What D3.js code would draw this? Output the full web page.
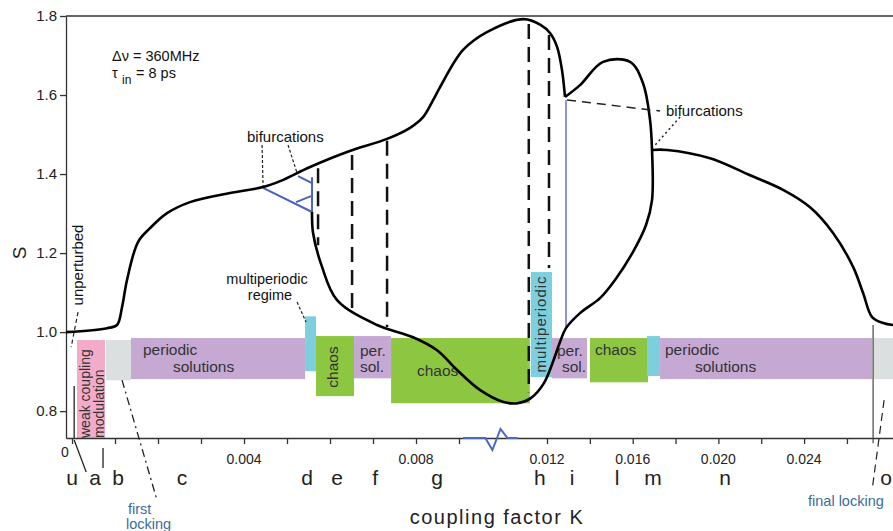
<!DOCTYPE html>
<html>
<head>
<meta charset="utf-8">
<script src="https://cdn.jsdelivr.net/npm/d3@7"></script>
<style>
body { margin: 0; background: #fff; }
svg { display: block; font-family: "Liberation Sans", Arial, sans-serif; }
</style>
</head>
<body>
<svg width="893" height="531"></svg>
<script>
// ---- data (K = coupling factor, S) ----
var xTicks = [0, 0.001, 0.002, 0.003, 0.004, 0.005, 0.006, 0.007, 0.008, 0.009,
              0.012, 0.014, 0.016, 0.018, 0.020, 0.022, 0.024, 0.026];
var xLabelValues = [0.004, 0.008, 0.012, 0.016, 0.020, 0.024];
var xLabelText = ["0.004", "0.008", "0.012", "0.016", "0.020", "0.024"];
var yTicks = [0.8, 1.0, 1.2, 1.4, 1.6, 1.8];

// regimes along K
var bandType   = ["weak", "lock", "periodic", "multi", "chaos", "periodic", "chaos", "multi", "periodic", "chaos", "multi", "periodic", "lock"];
var bandK0     = [0.000116, 0.000791, 0.001372, 0.00542, 0.005675, 0.006559, 0.00742, 0.011448, 0.012233, 0.014008, 0.016669, 0.017276, 0.027221];
var bandK1     = [0.000768, 0.001372, 0.00542, 0.005675, 0.006559, 0.00742, 0.011414, 0.012233, 0.013868, 0.016716, 0.017276, 0.027174, 0.02815];
var bandTop    = [0.980, 0.980, 0.985, 1.040, 0.990, 0.990, 0.985, 1.152, 0.985, 0.985, 0.990, 0.985, 0.985];
var bandBottom = [0.732, 0.878, 0.881, 0.901, 0.838, 0.883, 0.820, 0.886, 0.883, 0.873, 0.889, 0.881, 0.881];

var regionLetters = ["u", "a", "b", "c", "d", "e", "f", "g", "h", "i", "l", "m", "n", "o"];
var regionK = [0, 0.000535, 0.00107, 0.002559, 0.005466, 0.006164, 0.007048, 0.00849, 0.011758, 0.013167, 0.015268, 0.016949, 0.020311, 0.027828];

// S(K) branches
var upperK = [-0.00014, 0.000814, 0.001047, 0.001163, 0.001279, 0.001535, 0.001814, 0.00221, 0.002745, 0.003675, 0.004443, 0.004838, 0.005536, 0.006397, 0.007327, 0.007862, 0.008164, 0.008397, 0.00856, 0.009138, 0.009966, 0.011207, 0.011793, 0.01214, 0.01247, 0.0127, 0.01284];
var upperS = [1.0, 1.010, 1.018, 1.063, 1.132, 1.228, 1.263, 1.301, 1.329, 1.352, 1.367, 1.382, 1.418, 1.456, 1.489, 1.517, 1.544, 1.587, 1.620, 1.714, 1.760, 1.792, 1.777, 1.757, 1.722, 1.663, 1.595];
var loopK = [0.01284, 0.013541, 0.014615, 0.015875, 0.016482, 0.016809, 0.016902, 0.016902, 0.016622, 0.016015, 0.015175, 0.014474, 0.013541, 0.012887, 0.012607, 0.01228, 0.011896, 0.011448, 0.011, 0.010517, 0.009724, 0.008955, 0.00849, 0.007932, 0.007094, 0.006164, 0.005815, 0.005606, 0.005582];
var loopS = [1.595, 1.625, 1.684, 1.684, 1.630, 1.537, 1.461, 1.334, 1.271, 1.203, 1.132, 1.086, 1.048, 1.010, 0.975, 0.925, 0.871, 0.833, 0.820, 0.823, 0.853, 0.904, 0.954, 0.987, 1.018, 1.081, 1.165, 1.251, 1.304];
var rightK = [0.016902, 0.017603, 0.01961, 0.021478, 0.023019, 0.024279, 0.025353, 0.026287, 0.026754, 0.027174, 0.027688, 0.02815];
var rightS = [1.461, 1.461, 1.440, 1.397, 1.360, 1.316, 1.251, 1.165, 1.099, 1.038, 1.023, 1.018];

// dashed vertical lines
var dashK      = [0.005722, 0.006513, 0.007327, 0.011379, 0.012093];
var dashTop    = [1.415, 1.448, 1.484, 1.780, 1.752];
var dashBottom = [1.220, 1.056, 1.013, 0.848, 1.162];

// blue bifurcation fork
var forkK = [[0.004443, 0.005582], [0.005257, 0.005582], [0.00521, 0.005559], [0.005582, 0.005582]];
var forkS = [[1.365, 1.304], [1.395, 1.377], [1.329, 1.344], [1.392, 1.304]];
var blueLineK = 0.012887;
var blueLineS = [1.587, 1.013];

// axis break symbol
var breakK = [0.009138, 0.009897, 0.010138, 0.010414, 0.010655, 0.011];
var breakDy = [0, 0, 12, -9, 0, 0];

var regimeColor = { weak: "#f2abc9", lock: "#dcdfe0", periodic: "#c5a9d3", multi: "#7dcfdd", chaos: "#8dc641" };

// ---- drawing ----
var svg = d3.select("svg");

var x = d3.scaleLinear()
    .domain([-0.00014, 0.009, 0.012, 0.02815])
    .range([66, 459, 547, 893]);
var y = d3.scaleLinear()
    .domain([0.732, 1.8])
    .range([438, 16]);

// bands
svg.append("g").selectAll("rect")
    .data(bandType)
  .enter().append("rect")
    .attr("x", function(d, i) { return x(bandK0[i]); })
    .attr("width", function(d, i) { return x(bandK1[i]) - x(bandK0[i]); })
    .attr("y", function(d, i) { return y(bandTop[i]); })
    .attr("height", function(d, i) { return y(bandBottom[i]) - y(bandTop[i]); })
    .attr("fill", function(d) { return regimeColor[d]; });

// band labels
var bandText = [
  { t: "periodic", x: 143, y: 355 }, { t: "solutions", x: 173, y: 372 },
  { t: "per.", x: 360, y: 356 }, { t: "sol.", x: 360, y: 372 },
  { t: "chaos", x: 417, y: 376 },
  { t: "per.", x: 557, y: 356 }, { t: "sol.", x: 562, y: 372 },
  { t: "chaos", x: 595, y: 355 },
  { t: "periodic", x: 665, y: 355 }, { t: "solutions", x: 695, y: 372 }
];
svg.append("g").selectAll("text")
    .data(bandText)
  .enter().append("text")
    .attr("x", function(d) { return d.x; })
    .attr("y", function(d) { return d.y; })
    .attr("font-size", 15.5)
    .attr("fill", "#333")
    .text(function(d) { return d.t; });

var vText = [
  { t: "weak coupling", x: 90, y: 438, a: "start", s: 14, ls: 0 },
  { t: "modulation", x: 104, y: 438, a: "start", s: 14, ls: 0 },
  { t: "chaos", x: 338, y: 367, a: "middle", s: 15.5, ls: 0 },
  { t: "multiperiodic", x: 546, y: 324, a: "middle", s: 15, ls: 1 }
];
svg.append("g").selectAll("text")
    .data(vText)
  .enter().append("text")
    .attr("transform", function(d) { return "translate(" + d.x + "," + d.y + ") rotate(-90)"; })
    .attr("text-anchor", function(d) { return d.a; })
    .attr("font-size", function(d) { return d.s; })
    .attr("letter-spacing", function(d) { return d.ls; })
    .attr("fill", "#333")
    .text(function(d) { return d.t; });

// axes
var yAxis = svg.append("g")
    .attr("transform", "translate(66,0)")
    .call(d3.axisLeft(y).tickValues(yTicks).tickSize(6).tickSizeOuter(0).tickPadding(3)
      .tickFormat(d3.format(".1f")));
var xAxis = svg.append("g")
    .attr("transform", "translate(0,438)")
    .call(d3.axisBottom(x).tickValues(xTicks).tickSize(6).tickSizeOuter(0).tickFormat(""));
[yAxis, xAxis].forEach(function(a) {
  a.selectAll("path, line").attr("stroke", "#333").attr("stroke-width", 1.3);
  a.selectAll("text").attr("font-size", 15).attr("fill", "#222")
    .attr("font-family", "'Liberation Sans', Arial, sans-serif");
});
// top frame
svg.append("line")
    .attr("x1", x.range()[0]).attr("x2", x.range()[3])
    .attr("y1", y(1.8)).attr("y2", y(1.8))
    .attr("stroke", "#333").attr("stroke-width", 1.3);

svg.append("g").selectAll("text")
    .data(xLabelValues)
  .enter().append("text")
    .attr("x", function(d) { return x(d); })
    .attr("y", 464)
    .attr("text-anchor", "middle")
    .attr("font-size", 14)
    .attr("fill", "#222")
    .text(function(d, i) { return xLabelText[i]; });
svg.append("text").attr("x", x(0) - 7).attr("y", 457)
    .attr("text-anchor", "middle").attr("font-size", 14).attr("fill", "#222").text("0");

// axis break
svg.append("path")
    .datum(breakK)
    .attr("d", d3.line().x(function(d) { return x(d); }).y(function(d, i) { return 438 + breakDy[i]; }))
    .attr("fill", "none").attr("stroke", "#4a68c4").attr("stroke-width", 2);

// region letters
svg.append("g").selectAll("text")
    .data(regionLetters)
  .enter().append("text")
    .attr("x", function(d, i) { return x(regionK[i]); })
    .attr("y", 485)
    .attr("text-anchor", "middle")
    .attr("font-size", 21)
    .attr("fill", "#222")
    .text(function(d) { return d; });

svg.append("text").attr("x", 497).attr("y", 524).attr("text-anchor", "middle")
    .attr("font-size", 20).attr("letter-spacing", 1.5).attr("fill", "#222").text("coupling factor K");
svg.append("text").attr("transform", "translate(26,253) rotate(-90)").attr("text-anchor", "middle")
    .attr("font-size", 19).attr("fill", "#222").text("S");

// dashed verticals
svg.append("g").selectAll("line")
    .data(dashK)
  .enter().append("line")
    .attr("x1", function(d) { return x(d); }).attr("x2", function(d) { return x(d); })
    .attr("y1", function(d, i) { return y(dashTop[i]); })
    .attr("y2", function(d, i) { return y(dashBottom[i]); })
    .attr("stroke", "#111").attr("stroke-width", 2.5).attr("stroke-dasharray", "15,8");

// blue lines
svg.append("g").selectAll("line")
    .data(forkK)
  .enter().append("line")
    .attr("x1", function(d) { return x(d[0]); }).attr("x2", function(d) { return x(d[1]); })
    .attr("y1", function(d, i) { return y(forkS[i][0]); })
    .attr("y2", function(d, i) { return y(forkS[i][1]); })
    .attr("stroke", "#4a62c0").attr("stroke-width", 2);
svg.append("line")
    .attr("x1", x(blueLineK)).attr("x2", x(blueLineK))
    .attr("y1", y(blueLineS[0])).attr("y2", y(blueLineS[1]))
    .attr("stroke", "#8f93da").attr("stroke-width", 2);

// curves
var line = d3.line()
    .x(function(d) { return x(d[0]); })
    .y(function(d) { return y(d[1]); })
    .curve(d3.curveCatmullRom.alpha(0.5));
[[upperK, upperS], [loopK, loopS], [rightK, rightS]].forEach(function(c) {
  svg.append("path")
      .datum(c[0].map(function(k, i) { return [k, c[1][i]]; }))
      .attr("d", line)
      .attr("fill", "none").attr("stroke", "#000").attr("stroke-width", 2.6)
      .attr("stroke-linejoin", "round");
});

// annotation leaders [K0, S0, K1, S1, dash, colour, width]
var leaders = [
  [0.00014, 1.0506, -0.00002, 0.962, "4,3", "#222", 1.2],
  [0.00005, 0.8633, 0.00005, 0.7317, null, "#222", 1.3],
  [0.00005, 0.727, 0.00033, 0.646, null, "#222", 1.3],
  [0.000721, 0.707, 0.000721, 0.656, null, "#222", 1.3],
  [0.001163, 0.8785, 0.001977, 0.5747, "8,4,2,4", "#222", 1.3],
  [0.027735, 0.8279, 0.027174, 0.60, "8,5", "#222", 1.2],
  [0.027221, 1.0177, 0.027221, 0.719, null, "#444", 1.2],
  [0.00442, 1.4734, 0.004443, 1.3696, "3,2", "#222", 1.2],
  [0.005024, 1.4734, 0.005234, 1.4025, "3,2", "#222", 1.2],
  [0.005234, 1.0759, 0.005443, 1.0253, "3,2", "#222", 1.2],
  [0.012934, 1.5873, 0.017276, 1.5595, "9,6", "#222", 1.5],
  [0.01821, 1.5443, 0.017042, 1.4734, "2,3", "#222", 1.5]
];
svg.append("g").selectAll("line")
    .data(leaders)
  .enter().append("line")
    .attr("x1", function(d) { return x(d[0]); }).attr("y1", function(d) { return y(d[1]); })
    .attr("x2", function(d) { return x(d[2]); }).attr("y2", function(d) { return y(d[3]); })
    .attr("stroke", function(d) { return d[5]; })
    .attr("stroke-width", function(d) { return d[6]; })
    .attr("stroke-dasharray", function(d) { return d[4]; });

// annotation texts
var notes = [
  { t: "bifurcations", x: 247, y: 142, c: "#111" },
  { t: "bifurcations", x: 666, y: 116, c: "#111" },
  { t: "multiperiodic", x: 267, y: 284, c: "#111", a: "middle", s: 14.5 },
  { t: "regime", x: 270, y: 300, c: "#111", a: "middle", s: 14.5 },
  { t: "first", x: 128, y: 514, c: "#3b6d99", s: 14.5 },
  { t: "locking", x: 126, y: 529, c: "#3b6d99", s: 14.5 },
  { t: "final locking", x: 808, y: 506, c: "#3b6d99", s: 14.5 },
  { t: "\u0394\u03bd = 360MHz", x: 112, y: 61, c: "#111", s: 14.5 },
  { t: "\u03c4", x: 112, y: 78, c: "#111", s: 14.5 },
  { t: "in", x: 122, y: 84, c: "#111", s: 12 },
  { t: "= 8 ps", x: 136, y: 78, c: "#111", s: 14.5 }
];
svg.append("g").selectAll("text")
    .data(notes)
  .enter().append("text")
    .attr("x", function(d) { return d.x; })
    .attr("y", function(d) { return d.y; })
    .attr("text-anchor", function(d) { return d.a || "start"; })
    .attr("font-size", function(d) { return d.s || 15; })
    .attr("fill", function(d) { return d.c; })
    .text(function(d) { return d.t; });
svg.append("text")
    .attr("transform", "translate(83,265) rotate(-90)")
    .attr("text-anchor", "middle").attr("font-size", 15).attr("fill", "#111")
    .text("unperturbed");
</script>
</body>
</html>
